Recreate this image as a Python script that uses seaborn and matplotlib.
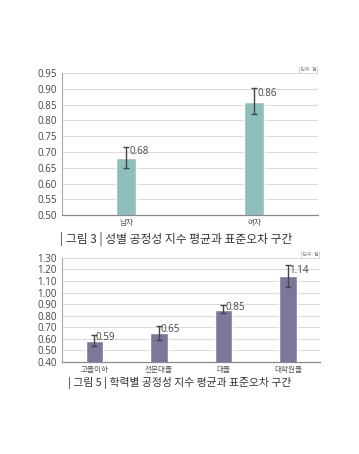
import matplotlib
matplotlib.use("Agg")
import matplotlib.pyplot as plt
import matplotlib.ticker as mticker
import numpy as np
import pandas as pd
import seaborn as sns

sns.set_style("white")
plt.rcParams["font.family"] = ["Noto Sans CJK KR", "DejaVu Sans"]

# data
gender_cats = ["남자", "여자"]
gender_mean = [0.68, 0.86]
gender_lo = [0.648, 0.820]
gender_hi = [0.715, 0.902]

edu_cats = ["고졸이하", "전문대졸", "대졸", "대학원졸"]
edu_mean = [0.58, 0.65, 0.85, 1.14]
edu_lo = [0.54, 0.59, 0.82, 1.05]
edu_hi = [0.63, 0.71, 0.89, 1.235]
edu_labels = ["0.59", "0.65", "0.85", "1.14"]

TEAL = "#8fbfba"
PURPLE = "#7d7899"
GRID = "#dcdcdc"
TXT = "#444444"


def draw(ax, cats, means, lo, hi, labels, color, width, ylim, step, fmt, unit_y):
    df = pd.DataFrame({"cat": cats, "val": means})
    sns.barplot(data=df, x="cat", y="val", color=color, width=width,
                saturation=1, ax=ax, zorder=3)
    x = np.arange(len(cats))
    m = np.array(means)
    ax.errorbar(x, m, yerr=[m - np.array(lo), np.array(hi) - m], fmt="none",
                ecolor="#444444", elinewidth=1.0, capsize=2.3, capthick=1.0, zorder=4)
    for xi, mi, hi_, lab in zip(x, means, hi, labels):
        ax.text(xi + 0.025, (mi + hi_) / 2 + 0.003, lab, fontsize=7, color=TXT,
                va="center", ha="left", zorder=5,
                family=["Open Sans", "DejaVu Sans"])
    ax.set_xlim(-0.5, len(cats) - 0.5)
    ax.set_ylim(*ylim)
    ax.yaxis.set_major_locator(mticker.MultipleLocator(step))
    ax.yaxis.set_major_formatter(mticker.FormatStrFormatter(fmt))
    ax.grid(axis="y", color=GRID, linewidth=0.8, zorder=0)
    ax.set_axisbelow(True)
    ax.set_xlabel("")
    ax.set_ylabel("")
    for s in ["top", "right"]:
        ax.spines[s].set_visible(False)
    ax.spines["left"].set_color("#aaaaaa")
    ax.spines["left"].set_linewidth(0.8)
    ax.spines["bottom"].set_color("#888888")
    ax.spines["bottom"].set_linewidth(0.9)
    ax.tick_params(axis="y", labelsize=7, colors=TXT, length=2, width=0.6, pad=2,
                   color="#999999")
    for t in ax.get_yticklabels():
        t.set_family(["Open Sans", "DejaVu Sans"])
    ax.tick_params(axis="x", which="major", labelsize=5.5, colors="#555555",
                   length=0, pad=3)
    ax.xaxis.set_minor_locator(mticker.FixedLocator(np.arange(len(cats) + 1) - 0.5))
    ax.tick_params(axis="x", which="minor", length=2.5, width=0.6, color="#999999")
    ax.text(1.0, unit_y, "[단위: 점]", transform=ax.transAxes, fontsize=3.5,
            color="#888888", ha="right", va="bottom")


fig = plt.figure(figsize=(3.59, 4.54), dpi=100)
fig.patch.set_facecolor("white")

ax1 = fig.add_axes([0.173, 0.526, 0.713, 0.313])
draw(ax1, gender_cats, gender_mean, gender_lo, gender_hi,
     [f"{v:.2f}" for v in gender_mean], TEAL, 0.16, (0.50, 0.95), 0.05, "%.2f", 1.01)

ax2 = fig.add_axes([0.173, 0.203, 0.719, 0.229])
draw(ax2, edu_cats, edu_mean, edu_lo, edu_hi, edu_labels, PURPLE, 0.27,
     (0.40, 1.30), 0.10, "%.2f", 1.01)

fig.text(0.167, 1 - 239 / 454, "| 그림 3 | 성별 공정성 지수 평균과 표준오차 구간",
         fontsize=8.5, color="#333333", va="center", ha="left", weight="medium")
fig.text(0.19, 1 - 383 / 454, "| 그림 5 | 학력별 공정성 지수 평균과 표준오차 구간",
         fontsize=7.8, color="#333333", va="center", ha="left", weight="medium")

fig.savefig("out.png", dpi=100)
